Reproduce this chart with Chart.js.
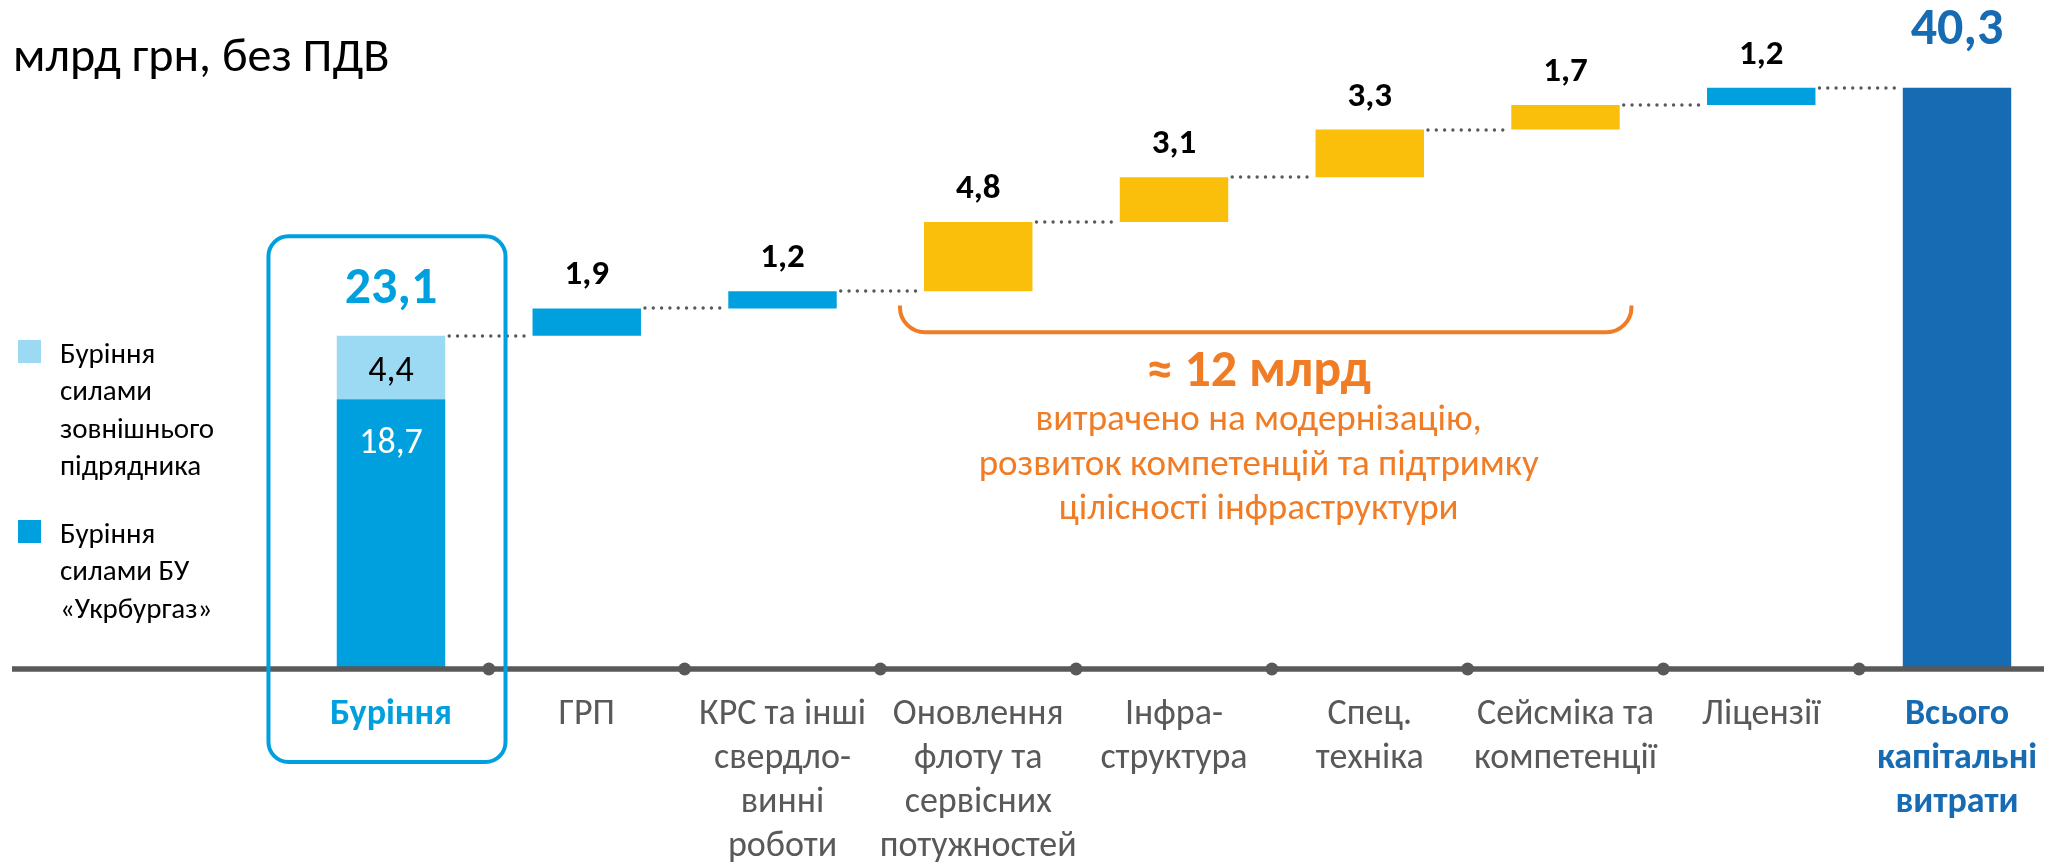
<!DOCTYPE html>
<html><head><meta charset="utf-8">
<script src="https://cdn.jsdelivr.net/npm/chart.js@4.4.0/dist/chart.umd.min.js"></script>
<style>html,body{margin:0;padding:0;background:#fff;overflow:hidden}#wrap{width:2050px;height:865px;position:relative}</style>
</head><body><div id="wrap"><canvas id="c" width="2050" height="865"></canvas></div>
<script>
// ---------- DATA ----------
const titleText = "млрд грн, без ПДВ";
const categories = [
  ["Буріння"],
  ["ГРП"],
  ["КРС та інші", "свердло-", "винні", "роботи"],
  ["Оновлення", "флоту та", "сервісних", "потужностей"],
  ["Інфра-", "структура"],
  ["Спец.", "техніка"],
  ["Сейсміка та", "компетенції"],
  ["Ліцензії"],
  ["Всього", "капітальні", "витрати"]
];
const drillingOwn = 18.7;        // Буріння силами БУ «Укрбургаз»
const drillingExternal = 4.4;    // Буріння силами зовнішнього підрядника
const drillingTotal = 23.1;
const stepValues = [1.9, 1.2, 4.8, 3.1, 3.3, 1.7, 1.2];
const totalValue = 40.3;
const legendExternal = ["Буріння", "силами", "зовнішнього", "підрядника"];
const legendOwn = ["Буріння", "силами БУ", "«Укрбургаз»"];
const noteHeadline = "≈ 12 млрд";
const noteLines = ["витрачено на модернізацію,", "розвиток компетенцій та підтримку", "цілісності інфраструктури"];

// ---------- STYLE ----------
const BLUE = "#00A0DF", LIGHT = "#9CD9F3", YELLOW = "#FABF0A", DARK = "#176BB2", ORANGE = "#F07D26", GRAY = "#595959";
const stepColors = [BLUE, BLUE, YELLOW, YELLOW, YELLOW, YELLOW, BLUE];
const FONT = "Carlito, Roboto, 'Liberation Sans', sans-serif";

// ---------- BUILD ----------
const n = categories.length;
const fmt = v => v.toFixed(1).replace('.', ',');
const ownData = Array(n).fill(null); ownData[0] = [0, drillingOwn];
const extData = Array(n).fill(null); extData[0] = [drillingOwn, drillingTotal];
const stepData = Array(n).fill(null);
const stepBg = Array(n).fill(BLUE);
const levels = [drillingTotal];
let run = drillingTotal;
stepValues.forEach((v, i) => {
  stepData[i + 1] = [run, run + v];
  stepBg[i + 1] = stepColors[i];
  run += v;
  levels.push(run);
});
const totData = Array(n).fill(null); totData[n - 1] = [0, totalValue];

const overlay = {
  id: 'overlay',
  afterDatasetsDraw(chart) {
    const { ctx } = chart;
    const x = chart.scales.x, y = chart.scales.y;
    const step = x.getPixelForValue(1) - x.getPixelForValue(0);
    const barW = chart.getDatasetMeta(0).data[0].width;
    const y0 = y.getPixelForValue(0);
    ctx.save();

    // connectors
    ctx.strokeStyle = GRAY; ctx.lineWidth = 3.4; ctx.lineCap = 'round';
    ctx.setLineDash([0.01, 8.3]);
    for (let i = 0; i < n - 1; i++) {
      const yy = Math.round(y.getPixelForValue(levels[i]));
      const x1 = x.getPixelForValue(i) + barW / 2 + 4;
      const x2 = x.getPixelForValue(i + 1) - barW / 2 - 1;
      ctx.beginPath(); ctx.moveTo(x1, yy); ctx.lineTo(x2, yy); ctx.stroke();
    }
    ctx.setLineDash([]);

    // axis line + dots
    ctx.strokeStyle = GRAY; ctx.lineWidth = 5.5; ctx.lineCap = 'butt';
    ctx.beginPath(); ctx.moveTo(12, y0); ctx.lineTo(2044, y0); ctx.stroke();
    ctx.fillStyle = GRAY;
    for (let i = 0; i < n - 1; i++) {
      const cx = (x.getPixelForValue(i) + x.getPixelForValue(i + 1)) / 2;
      ctx.beginPath(); ctx.arc(cx, y0, 6.5, 0, Math.PI * 2); ctx.fill();
    }

    // rounded box around drilling
    const c0 = x.getPixelForValue(0);
    const bl = c0 - 0.626 * step, br = c0 + 0.585 * step;
    const bt = y.getPixelForValue(30), bb = y0 + 93, r = 20;
    ctx.strokeStyle = BLUE; ctx.lineWidth = 4;
    ctx.beginPath();
    ctx.moveTo(bl + r, bt); ctx.lineTo(br - r, bt); ctx.arcTo(br, bt, br, bt + r, r);
    ctx.lineTo(br, bb - r); ctx.arcTo(br, bb, br - r, bb, r);
    ctx.lineTo(bl + r, bb); ctx.arcTo(bl, bb, bl, bb - r, r);
    ctx.lineTo(bl, bt + r); ctx.arcTo(bl, bt, bl + r, bt, r);
    ctx.closePath(); ctx.stroke();

    // bracket
    const kl = x.getPixelForValue(3) - 0.4 * step, kr = x.getPixelForValue(6) + 0.337 * step;
    const kt = y.getPixelForValue(25.2), kb = y.getPixelForValue(23.35), kr2 = 25;
    ctx.strokeStyle = ORANGE; ctx.lineWidth = 4;
    ctx.beginPath();
    ctx.moveTo(kl, kt); ctx.lineTo(kl, kb - kr2); ctx.arcTo(kl, kb, kl + kr2, kb, kr2);
    ctx.lineTo(kr - kr2, kb); ctx.arcTo(kr, kb, kr, kb - kr2, kr2); ctx.lineTo(kr, kt);
    ctx.stroke();

    // note text
    const nx = (kl + kr) / 2 - 7;
    ctx.fillStyle = ORANGE; ctx.textAlign = 'center'; ctx.textBaseline = 'alphabetic';
    ctx.font = `bold 52px ${FONT}`;
    ctx.fillText(noteHeadline, nx, kb + 54);
    ctx.font = `37px ${FONT}`;
    noteLines.forEach((t, i) => ctx.fillText(t, nx, kb + 98 + i * 44.5));

    // value labels
    ctx.fillStyle = '#000';
    ctx.font = `bold 35px ${FONT}`;
    stepValues.forEach((v, i) => {
      const top = y.getPixelForValue(levels[i + 1]);
      ctx.fillText(fmt(v), x.getPixelForValue(i + 1), top - 24);
    });
    ctx.fillStyle = BLUE; ctx.font = `bold 52px ${FONT}`;
    ctx.fillText(fmt(drillingTotal), c0, y.getPixelForValue(drillingTotal) - 33);
    ctx.fillStyle = DARK; ctx.font = `bold 52px ${FONT}`;
    ctx.fillText(fmt(totalValue), x.getPixelForValue(n - 1), y.getPixelForValue(totalValue) - 44);
    ctx.font = `36px ${FONT}`;
    ctx.fillStyle = '#000';
    const extMid = (y.getPixelForValue(drillingOwn) + y.getPixelForValue(drillingTotal)) / 2;
    ctx.fillText(fmt(drillingExternal), c0, extMid + 13);
    ctx.fillStyle = '#fff';
    ctx.fillText(fmt(drillingOwn), c0, y.getPixelForValue(drillingOwn) + 54);

    // title
    ctx.textAlign = 'left'; ctx.fillStyle = '#000';
    ctx.font = `48px ${FONT}`;
    ctx.fillText(titleText, 13, 71);

    // legend
    ctx.font = `29px ${FONT}`;
    const drawLegend = (lines, color, top) => {
      ctx.fillStyle = color; ctx.fillRect(18, top, 23, 23);
      ctx.fillStyle = '#000';
      lines.forEach((t, i) => ctx.fillText(t, 60, top + 23 + i * 37.4));
    };
    drawLegend(legendExternal, LIGHT, 340);
    drawLegend(legendOwn, BLUE, 520);
    ctx.restore();
  }
};

new Chart(document.getElementById('c'), {
  type: 'bar',
  data: {
    labels: categories,
    datasets: [
      { label: legendOwn.join(' '), data: ownData, backgroundColor: BLUE },
      { label: legendExternal.join(' '), data: extData, backgroundColor: LIGHT },
      { label: 'Кроки', data: stepData, backgroundColor: stepBg },
      { label: categories[n - 1].join(' '), data: totData, backgroundColor: DARK }
    ]
  },
  options: {
    responsive: false, animation: false, devicePixelRatio: 1,
    layout: { padding: { left: 391, right: 93, top: 20, bottom: 0 } },
    datasets: { bar: { grouped: false, clip: false, barPercentage: 0.554, categoryPercentage: 1, borderWidth: 0 } },
    plugins: { legend: { display: false }, tooltip: { enabled: false } },
    scales: {
      x: {
        offset: false,
        grid: { display: false, drawTicks: false },
        border: { display: false },
        ticks: {
          autoSkip: false, maxRotation: 0, minRotation: 0, padding: 24,
          font: (c) => ({ family: FONT, size: 36, lineHeight: 1.222, weight: (c.index === 0 || c.index === n - 1) ? 'bold' : 'normal' }),
          color: (c) => c.index === 0 ? BLUE : (c.index === n - 1 ? DARK : GRAY)
        },
        afterFit(s) { s.height = 196; s.paddingLeft = 0; s.paddingRight = 0; }
      },
      y: { display: false, min: 0, max: 45 }
    }
  },
  plugins: [overlay]
});
</script>
</body></html>
